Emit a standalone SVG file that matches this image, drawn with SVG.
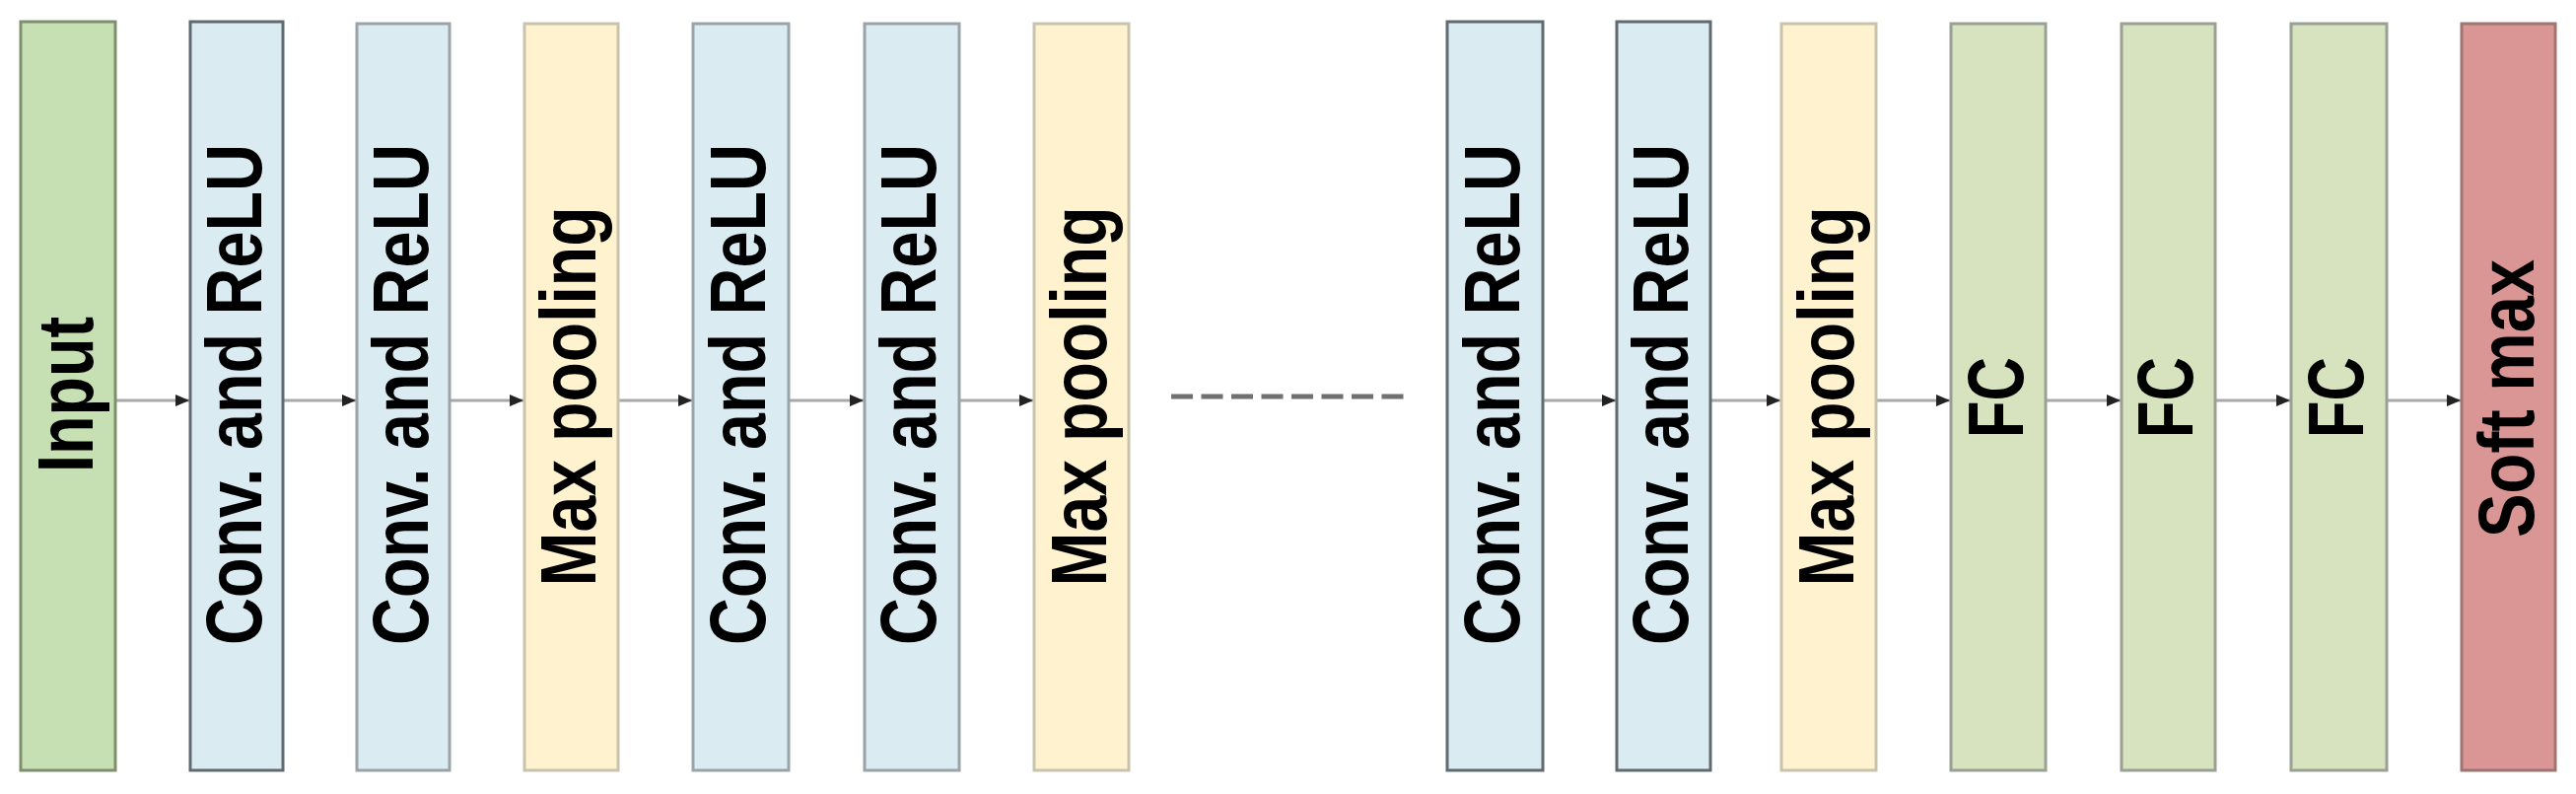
<svg xmlns="http://www.w3.org/2000/svg" width="2613" height="805" viewBox="0 0 2613 805">
<style>
.box{stroke-width:3}
.input{fill:#c6e0b4;stroke:#7e8f6e}
.conv{fill:#daebf2;stroke:#9aa3a8}
.convd{fill:#daebf2;stroke:#5f6b70}
.pool{fill:#fff2cf;stroke:#c9c3ad}
.fc{fill:#d7e3bf;stroke:#9aa094}
.soft{fill:#d99694;stroke:#a07472}
.lbl{font-family:"Liberation Sans",Arial,sans-serif;font-weight:bold;font-size:80px;fill:#000;text-anchor:middle}
.arrow{stroke:#a8a8a8;stroke-width:3;fill:none;marker-end:url(#ah)}
.dash{stroke:#707070;stroke-width:5;fill:none;stroke-dasharray:22 8.5}
</style>
<defs>
<marker id="ah" markerUnits="userSpaceOnUse" markerWidth="16" markerHeight="14" refX="14" refY="7" orient="auto">
<path d="M0,1 L14,7 L0,13 z" fill="#222"/>
</marker>
</defs>
<rect x="0" y="0" width="2613" height="805" fill="#ffffff"/>
<g id="connectors">
<line class="arrow" x1="118" y1="406" x2="192" y2="406"/>
<line class="arrow" x1="288" y1="406" x2="361" y2="406"/>
<line class="arrow" x1="457" y1="406" x2="531" y2="406"/>
<line class="arrow" x1="628" y1="406" x2="702" y2="406"/>
<line class="arrow" x1="801" y1="406" x2="876" y2="406"/>
<line class="arrow" x1="974" y1="406" x2="1048" y2="406"/>
<line class="dash" x1="1188" y1="402" x2="1424" y2="402"/>
<line class="arrow" x1="1566" y1="406" x2="1639" y2="406"/>
<line class="arrow" x1="1736" y1="406" x2="1806" y2="406"/>
<line class="arrow" x1="1904" y1="406" x2="1978" y2="406"/>
<line class="arrow" x1="2076" y1="406" x2="2151" y2="406"/>
<line class="arrow" x1="2248" y1="406" x2="2323" y2="406"/>
<line class="arrow" x1="2422" y1="406" x2="2496" y2="406"/>
</g>
<g id="n1"><rect class="box input" x="21" y="22" width="96" height="759"/><text class="lbl" transform="translate(94,400) rotate(-90)" textLength="158" lengthAdjust="spacingAndGlyphs">Input</text></g>
<g id="n2"><rect class="box convd" x="193" y="22" width="94" height="759"/><text class="lbl" transform="translate(265,400) rotate(-90)" textLength="508" lengthAdjust="spacingAndGlyphs">Conv. and ReLU</text></g>
<g id="n3"><rect class="box conv" x="362" y="24" width="94" height="757"/><text class="lbl" transform="translate(434,400) rotate(-90)" textLength="508" lengthAdjust="spacingAndGlyphs">Conv. and ReLU</text></g>
<g id="n4"><rect class="box pool" x="532" y="24" width="95" height="757"/><text class="lbl" transform="translate(604,402) rotate(-90)" textLength="385" lengthAdjust="spacingAndGlyphs">Max pooling</text></g>
<g id="n5"><rect class="box conv" x="703" y="24" width="97" height="757"/><text class="lbl" transform="translate(776,400) rotate(-90)" textLength="508" lengthAdjust="spacingAndGlyphs">Conv. and ReLU</text></g>
<g id="n6"><rect class="box conv" x="877" y="24" width="96" height="757"/><text class="lbl" transform="translate(949,400) rotate(-90)" textLength="508" lengthAdjust="spacingAndGlyphs">Conv. and ReLU</text></g>
<g id="n7"><rect class="box pool" x="1049" y="24" width="96" height="757"/><text class="lbl" transform="translate(1122,402) rotate(-90)" textLength="385" lengthAdjust="spacingAndGlyphs">Max pooling</text></g>
<g id="n8"><rect class="box convd" x="1468" y="22" width="97" height="759"/><text class="lbl" transform="translate(1541,400) rotate(-90)" textLength="508" lengthAdjust="spacingAndGlyphs">Conv. and ReLU</text></g>
<g id="n9"><rect class="box convd" x="1640" y="22" width="95" height="759"/><text class="lbl" transform="translate(1712,400) rotate(-90)" textLength="508" lengthAdjust="spacingAndGlyphs">Conv. and ReLU</text></g>
<g id="n10"><rect class="box pool" x="1807" y="24" width="96" height="757"/><text class="lbl" transform="translate(1880,402) rotate(-90)" textLength="385" lengthAdjust="spacingAndGlyphs">Max pooling</text></g>
<g id="n11"><rect class="box fc" x="1979" y="24" width="96" height="757"/><text class="lbl" transform="translate(2052,403) rotate(-90)" textLength="82" lengthAdjust="spacingAndGlyphs">FC</text></g>
<g id="n12"><rect class="box fc" x="2152" y="24" width="95" height="757"/><text class="lbl" transform="translate(2224,403) rotate(-90)" textLength="82" lengthAdjust="spacingAndGlyphs">FC</text></g>
<g id="n13"><rect class="box fc" x="2324" y="24" width="97" height="757"/><text class="lbl" transform="translate(2397,403) rotate(-90)" textLength="82" lengthAdjust="spacingAndGlyphs">FC</text></g>
<g id="n14"><rect class="box soft" x="2497" y="24" width="95" height="757"/><text class="lbl" transform="translate(2570,404) rotate(-90)" textLength="282" lengthAdjust="spacingAndGlyphs">Soft max</text></g>
</svg>
